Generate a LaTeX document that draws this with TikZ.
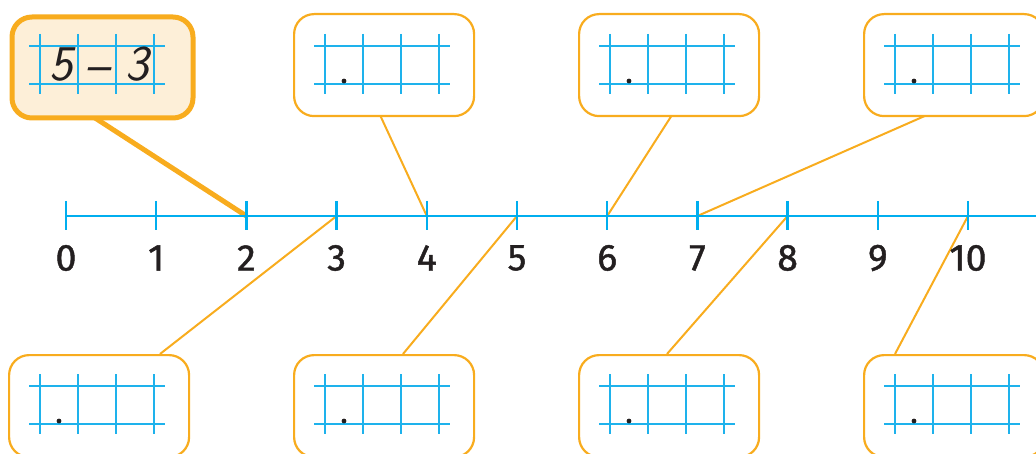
\documentclass[tikz,border=0pt]{standalone}
\usepackage{fontspec}
\setmainfont{Open Sans}
\newfontfamily\numfont[FakeBold=1.2]{Fira Sans}
\definecolor{orng}{RGB}{248,172,30}
\definecolor{cream}{RGB}{253,239,216}
\definecolor{nlblue}{RGB}{0,174,239}
\definecolor{gblue}{RGB}{30,178,236}
\definecolor{numcol}{RGB}{35,31,32}
\newcommand\cellgrid[2]{%
  \draw[gridline] ({#1+22},{#2+34}) -- ({#1+158},{#2+34});
  \draw[gridline] ({#1+22},{#2+72}) -- ({#1+158},{#2+72});
  \foreach \gx in {33,71,109,147}{\draw[gridline] ({#1+\gx},{#2+22}) -- ({#1+\gx},{#2+82});}
}
\newcommand\celldot[2]{\fill[numcol] ({#1+52},{#2+69}) circle (2.4);}
\begin{document}
\begin{tikzpicture}[x=1pt,y=-1pt,
  numline/.style={draw=nlblue,line width=2.4pt},
  gridline/.style={draw=gblue,line width=1.8pt},
  bubble/.style={draw=orng,line width=2.2pt,rounded corners=20pt,fill=white,
    minimum width=180pt,minimum height=102pt,inner sep=0pt,anchor=north west},
  hlbubble/.style={bubble,line width=5pt,fill=cream,minimum width=181pt,minimum height=101pt},
  conn/.style={draw=orng,line width=2pt},
  hlconn/.style={draw=orng,line width=5pt},
  numlab/.style={font=\numfont\fontsize{37.5}{40}\selectfont,text=numcol,inner sep=0pt},
  hand/.style={font=\sffamily\itshape\fontsize{50}{54}\selectfont,text=numcol,inner sep=0pt}]
\useasboundingbox (0,0) rectangle (1036,454);
\clip (0,0) rectangle (1036,454);
% tick coordinates
\foreach \i in {0,...,10}{\coordinate (k\i) at ({66+90.2*\i},216);}
% connector start points
\coordinate (a1) at (92,116);
\coordinate (a2) at (380,115);
\coordinate (a3) at (672,115);
\coordinate (a4) at (927,115);
\coordinate (b1) at (160,354);
\coordinate (b2) at (403,354);
\coordinate (b3) at (667,354);
\coordinate (b4) at (895,354);
% connectors
\draw[hlconn] (a1) -- (k2);
\draw[conn] (a2) -- (k4);
\draw[conn] (a3) -- (k6);
\draw[conn] (a4) -- (k7);
\draw[conn] (b1) -- (k3);
\draw[conn] (b2) -- (k5);
\draw[conn] (b3) -- (k8);
\draw[conn] (b4) -- (k10);
% boxes
\node[hlbubble] (t1) at (9.5,14.5) {};
\node[bubble] (t2) at (293,13) {};
\node[bubble] (t3) at (578,13) {};
\node[bubble] (t4) at (863,13) {};
\node[bubble] (u1) at (8,354) {};
\node[bubble] (u2) at (293,354) {};
\node[bubble] (u3) at (578,354) {};
\node[bubble] (u4) at (863,354) {};
% grids
\cellgrid{7}{12}
\cellgrid{292}{12}\celldot{292}{12}
\cellgrid{577}{12}\celldot{577}{12}
\cellgrid{862}{12}\celldot{862}{12}
\cellgrid{7}{352}\celldot{7}{352}
\cellgrid{292}{352}\celldot{292}{352}
\cellgrid{577}{352}\celldot{577}{352}
\cellgrid{862}{352}\celldot{862}{352}
% handwritten expression
\node[hand] (h5) at (61,64.5) {5};
\node[hand] (hm) at (97,75) {–};
\node[hand] (h3) at (137,64.5) {3};
% number line
\draw[numline] (k0) -- (1040,216);
\foreach \i in {0,...,10}{
  \draw[numline] ({66+90.2*\i},201) -- ({66+90.2*\i},230);
  \node[numlab] (n\i) at ({66+90.2*\i},258) {\i};
}
\end{tikzpicture}
\end{document}
